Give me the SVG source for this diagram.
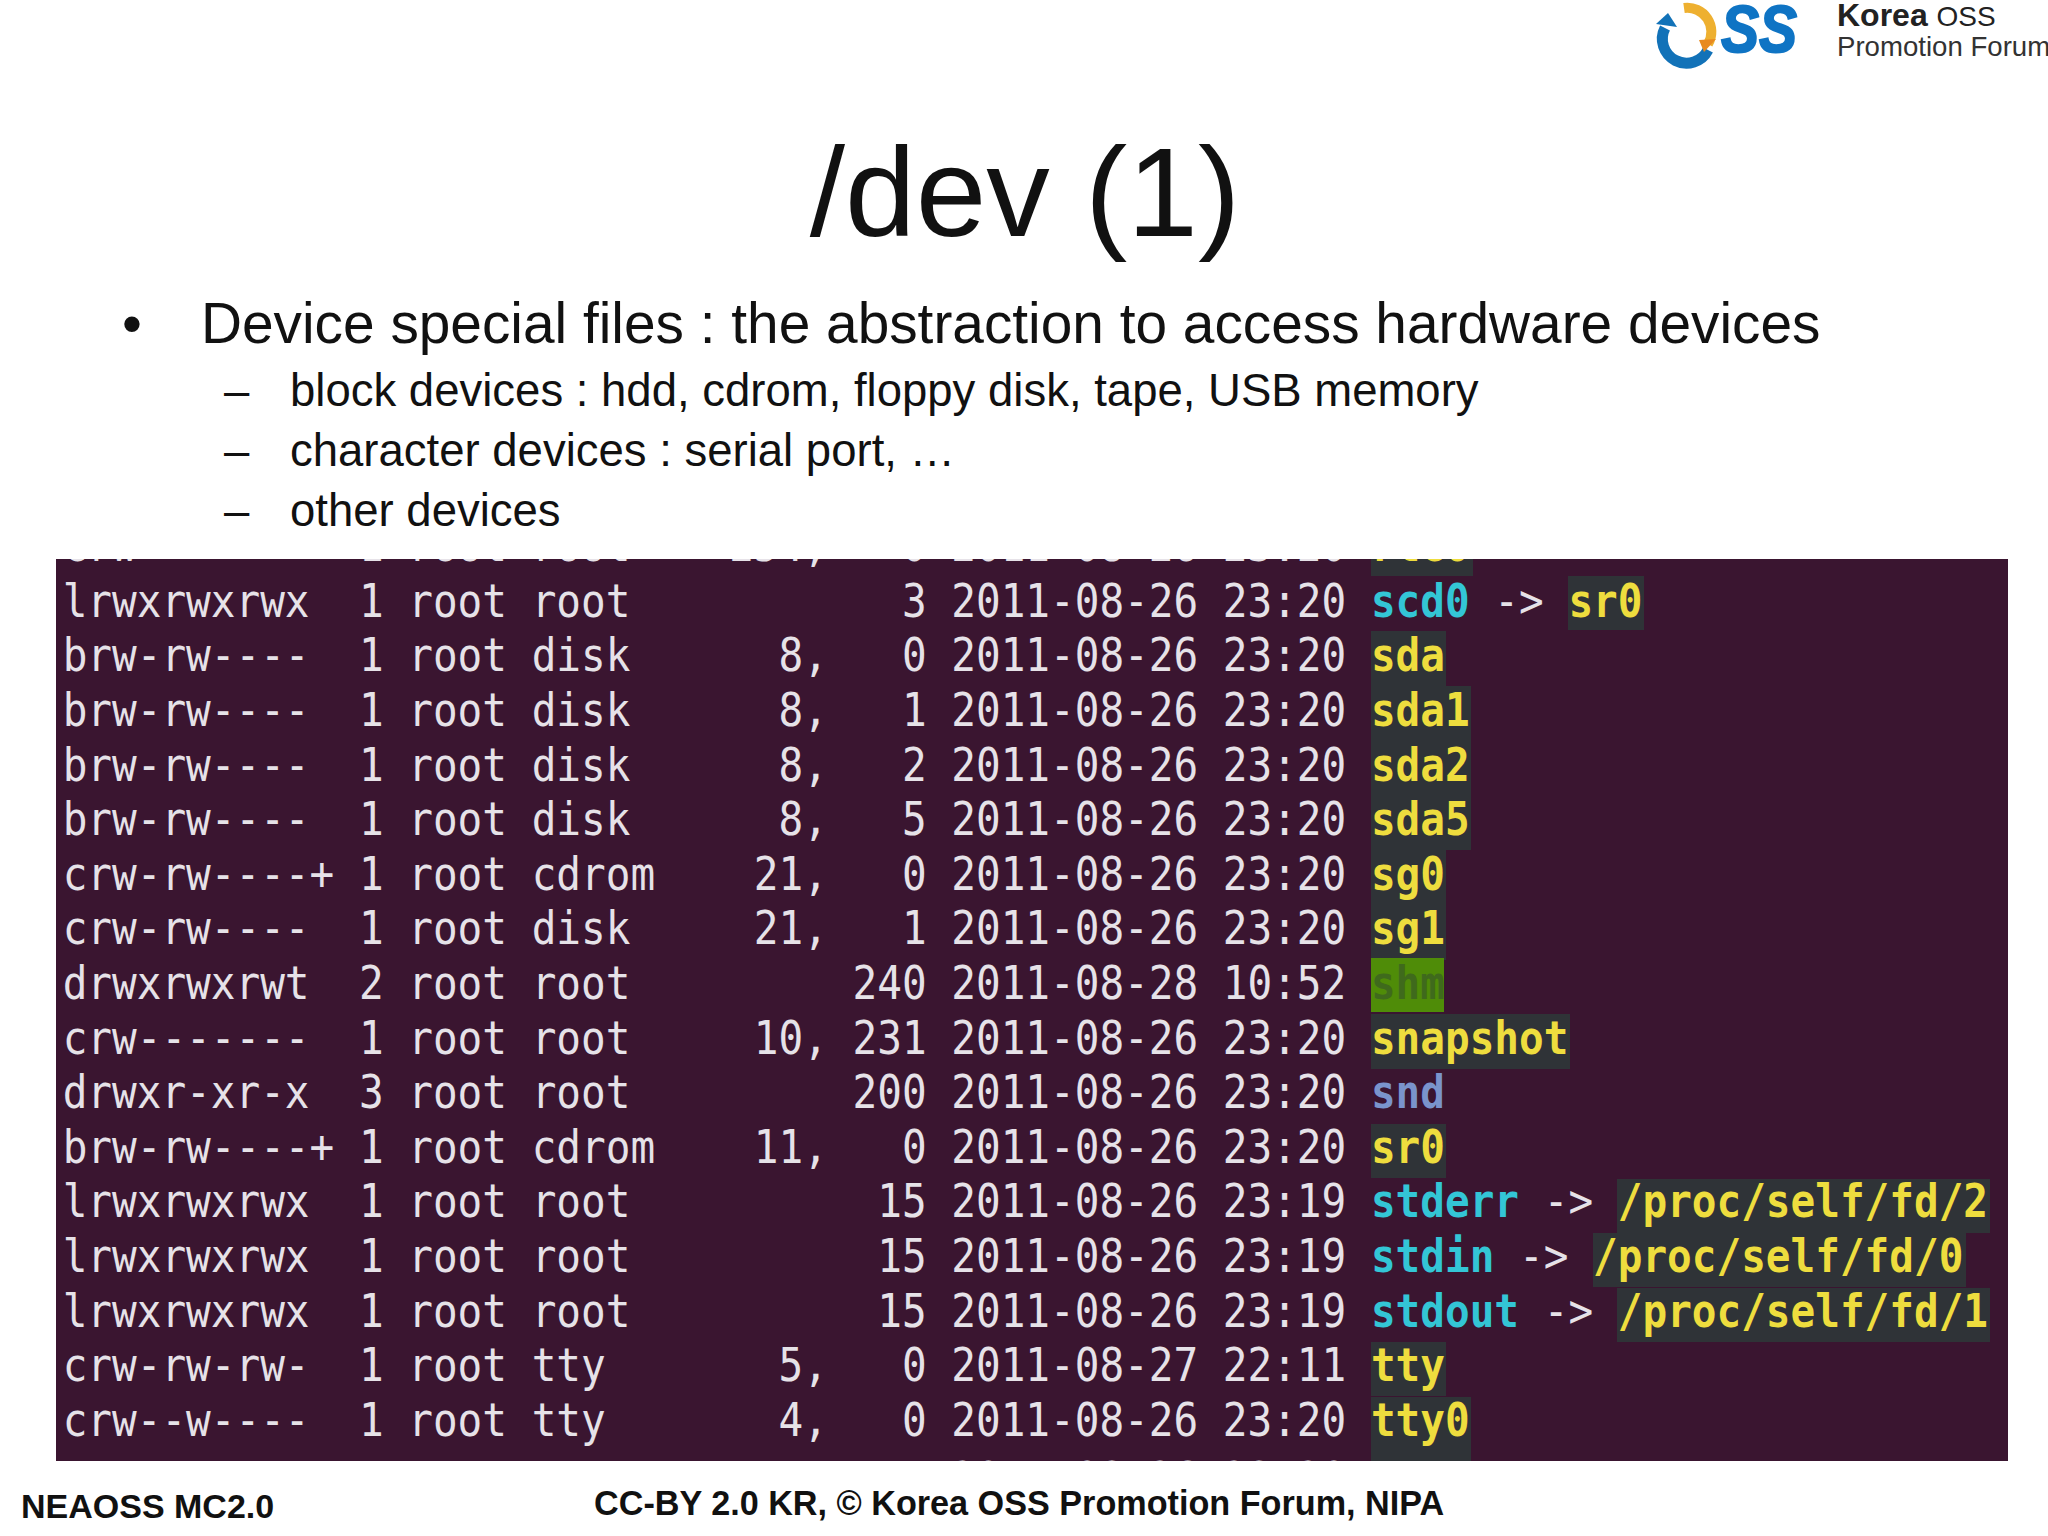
<svg xmlns="http://www.w3.org/2000/svg" width="2048" height="1536" viewBox="0 0 2048 1536">
<style>
.s{font-family:"Liberation Sans",Arial,sans-serif;fill:#111}
.t{font-family:"DejaVu Sans Mono",monospace;font-size:46px;fill:#e6e2e8;white-space:pre}
.y{fill:#eedd3e;font-weight:bold}.c{fill:#33c6d6;font-weight:bold}.b{fill:#7a94cc;font-weight:bold}.g{fill:#3f6a1c;font-weight:bold}
.h{fill:#2f3337}
</style>
<defs><clipPath id="term"><rect x="56" y="559" width="1952" height="902"/></clipPath></defs>
<rect width="2048" height="1536" fill="#fff"/>
<g id="logo">
<path d="M1684 8 A24 24 0 0 1 1708 44" fill="none" stroke="#eeb030" stroke-width="10"/>
<path d="M1665 28 A24 24 0 0 0 1708 50" fill="none" stroke="#1272b8" stroke-width="11"/>
<path d="M1656 24 L1668 13 L1677 27 Z" fill="#1272b8"/>
<path d="M1699 40 L1716 39 L1704 52 Z" fill="#e88a20"/>
<text x="1721" y="52" font-family="Liberation Sans" font-weight="bold" font-style="italic" font-size="66" fill="#0f74c4" stroke="#0f74c4" stroke-width="2" textLength="76" lengthAdjust="spacingAndGlyphs">SS</text>
<text x="1837" y="26" font-family="Liberation Sans" font-weight="bold" font-size="32" fill="#222">Korea <tspan font-weight="normal" font-size="28">OSS</tspan></text>
<text x="1837" y="56" font-family="Liberation Sans" font-size="27.6" fill="#333">Promotion Forum</text>
</g>
<text id="title" class="s" x="1025" y="236" text-anchor="middle" font-size="127">/dev (1)</text>
<g id="bullets">
<text class="s" x="122" y="343" font-size="56.8">•</text>
<text class="s" x="201" y="343" font-size="56.8">Device special files : the abstraction to access hardware devices</text>
<text class="s" x="224" y="406" font-size="45.5">–</text>
<text class="s" x="290" y="406" font-size="45.5">block devices : hdd, cdrom, floppy disk, tape, USB memory</text>
<text class="s" x="224" y="466" font-size="45.5">–</text>
<text class="s" x="290" y="466" font-size="45.5">character devices : serial port, …</text>
<text class="s" x="224" y="526" font-size="45.5">–</text>
<text class="s" x="290" y="526" font-size="45.5">other devices</text>
</g>
<g id="terminal">
<rect x="56" y="559" width="1952" height="902" fill="#3a1530"/>
<g clip-path="url(#term)">
<g id="highlights">
<rect class="h" x="1371" y="530" width="102" height="46"/>
<rect class="h" x="1568" y="576" width="76" height="54"/>
<rect class="h" x="1371" y="631" width="75" height="55"/>
<rect class="h" x="1371" y="686" width="100" height="164"/>
<rect class="h" x="1371" y="850" width="75" height="110"/>
<rect x="1371" y="958" width="73" height="54" fill="#4f8c08"/>
<rect class="h" x="1371" y="1014" width="199" height="55"/>
<rect class="h" x="1371" y="1124" width="75" height="54"/>
<rect class="h" x="1617" y="1179" width="373" height="54"/>
<rect class="h" x="1593" y="1233" width="373" height="54"/>
<rect class="h" x="1617" y="1288" width="373" height="54"/>
<rect class="h" x="1371" y="1342" width="75" height="54"/>
<rect class="h" x="1371" y="1397" width="100" height="64"/>
</g>
<g transform="scale(0.8916 1)">
<text class="t" x="70.3" y="561">crw-------  1 root root    254,   0 2011-08-26 23:20 <tspan class="y">rtc0</tspan></text>
<text class="t" x="70.3" y="617">lrwxrwxrwx  1 root root           3 2011-08-26 23:20 <tspan class="c">scd0</tspan> -&gt; <tspan class="y">sr0</tspan></text>
<text class="t" x="70.3" y="671">brw-rw----  1 root disk      8,   0 2011-08-26 23:20 <tspan class="y">sda</tspan></text>
<text class="t" x="70.3" y="726">brw-rw----  1 root disk      8,   1 2011-08-26 23:20 <tspan class="y">sda1</tspan></text>
<text class="t" x="70.3" y="781">brw-rw----  1 root disk      8,   2 2011-08-26 23:20 <tspan class="y">sda2</tspan></text>
<text class="t" x="70.3" y="835">brw-rw----  1 root disk      8,   5 2011-08-26 23:20 <tspan class="y">sda5</tspan></text>
<text class="t" x="70.3" y="890">crw-rw----+ 1 root cdrom    21,   0 2011-08-26 23:20 <tspan class="y">sg0</tspan></text>
<text class="t" x="70.3" y="944">crw-rw----  1 root disk     21,   1 2011-08-26 23:20 <tspan class="y">sg1</tspan></text>
<text class="t" x="70.3" y="999">drwxrwxrwt  2 root root         240 2011-08-28 10:52 <tspan class="g">shm</tspan></text>
<text class="t" x="70.3" y="1054">crw-------  1 root root     10, 231 2011-08-26 23:20 <tspan class="y">snapshot</tspan></text>
<text class="t" x="70.3" y="1108">drwxr-xr-x  3 root root         200 2011-08-26 23:20 <tspan class="b">snd</tspan></text>
<text class="t" x="70.3" y="1163">brw-rw----+ 1 root cdrom    11,   0 2011-08-26 23:20 <tspan class="y">sr0</tspan></text>
<text class="t" x="70.3" y="1217">lrwxrwxrwx  1 root root          15 2011-08-26 23:19 <tspan class="c">stderr</tspan> -&gt; <tspan class="y">/proc/self/fd/2</tspan></text>
<text class="t" x="70.3" y="1272">lrwxrwxrwx  1 root root          15 2011-08-26 23:19 <tspan class="c">stdin</tspan> -&gt; <tspan class="y">/proc/self/fd/0</tspan></text>
<text class="t" x="70.3" y="1327">lrwxrwxrwx  1 root root          15 2011-08-26 23:19 <tspan class="c">stdout</tspan> -&gt; <tspan class="y">/proc/self/fd/1</tspan></text>
<text class="t" x="70.3" y="1381">crw-rw-rw-  1 root tty       5,   0 2011-08-27 22:11 <tspan class="y">tty</tspan></text>
<text class="t" x="70.3" y="1436">crw--w----  1 root tty       4,   0 2011-08-26 23:20 <tspan class="y">tty0</tspan></text>
<text class="t" x="70.3" y="1495">crw-rw----  1 root tty       4,   1 2011-08-26 23:20 <tspan class="y">tty1</tspan></text>
</g>
</g>
</g>
<g id="footer">
<text class="s" x="21" y="1518" font-size="34" font-weight="bold">NEAOSS MC2.0</text>
<text class="s" x="594" y="1515" font-size="34.2" font-weight="bold">CC-BY 2.0 KR, © Korea OSS Promotion Forum, NIPA</text>
</g>
</svg>
